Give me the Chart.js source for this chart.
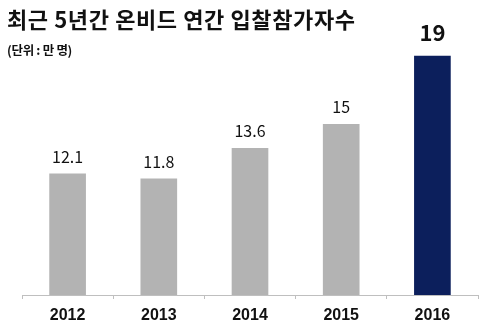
<!DOCTYPE html>
<html><head><meta charset="utf-8">
<script src="https://cdn.jsdelivr.net/npm/chart.js@4"></script>
<style>
html,body{margin:0;padding:0;background:#fff;}
#wrap{position:relative;width:500px;height:330px;}
#title{position:absolute;left:7px;top:2px;font-family:"Noto Sans CJK KR";font-weight:bold;font-size:22px;color:#111;white-space:nowrap;letter-spacing:0.6px;}
#sub{position:absolute;left:7px;top:40px;font-family:"Noto Sans CJK KR";font-weight:bold;font-size:12.5px;color:#111;white-space:nowrap;letter-spacing:-0.3px;}
canvas{position:absolute;left:0;top:0;}
</style></head>
<body><div id="wrap"><canvas id="c" width="500" height="330"></canvas>
<div id="title">최근 5년간 온비드 연간 입찰참가자수</div>
<div id="sub">(단위 : 만 명)</div></div>
<script>
const years = ['2012','2013','2014','2015','2016'];
const participants = [12.1, 11.8, 13.6, 15, 19];
const valueLabels = ['12.1','11.8','13.6','15','19'];
const barColors = ['#b3b3b3','#b3b3b3','#b3b3b3','#b3b3b3','#0c1f5c'];

const labelPlugin = {
  id:'valLabels',
  afterDatasetsDraw(chart){
    const ctx = chart.ctx;
    const meta = chart.getDatasetMeta(0);
    meta.data.forEach((bar,i)=>{
      const last = i === meta.data.length-1;
      ctx.save();
      ctx.fillStyle = '#111';
      ctx.textAlign = 'center';
      ctx.textBaseline = 'middle';
      ctx.font = last ? 'bold 22px "Noto Sans CJK KR"' : '16px "Noto Sans CJK KR"';
      ctx.fillText(valueLabels[i], bar.x, bar.y - (last ? 23 : 17));
      ctx.restore();
    });
  }
};

new Chart(document.getElementById('c'), {
  type:'bar',
  data:{labels:years,datasets:[{data:participants,backgroundColor:barColors,barThickness:36}]},
  options:{
    responsive:false,animation:false,
    layout:{padding:{left:22,right:22,top:39,bottom:0}},
    plugins:{legend:{display:false},tooltip:{enabled:false}},
    scales:{
      y:{display:false,min:5,max:20},
      x:{
        grid:{offset:true,drawOnChartArea:false,tickLength:4,color:'#bfbfbf'},
        border:{color:'#bfbfbf',width:1},
        ticks:{font:{family:'"Liberation Sans Narrow", "Liberation Sans", sans-serif',size:16,weight:'bold'},color:'#111',padding:7},
        afterFit(s){s.height=35;}
      }
    }
  },
  plugins:[labelPlugin]
});
</script></body></html>
